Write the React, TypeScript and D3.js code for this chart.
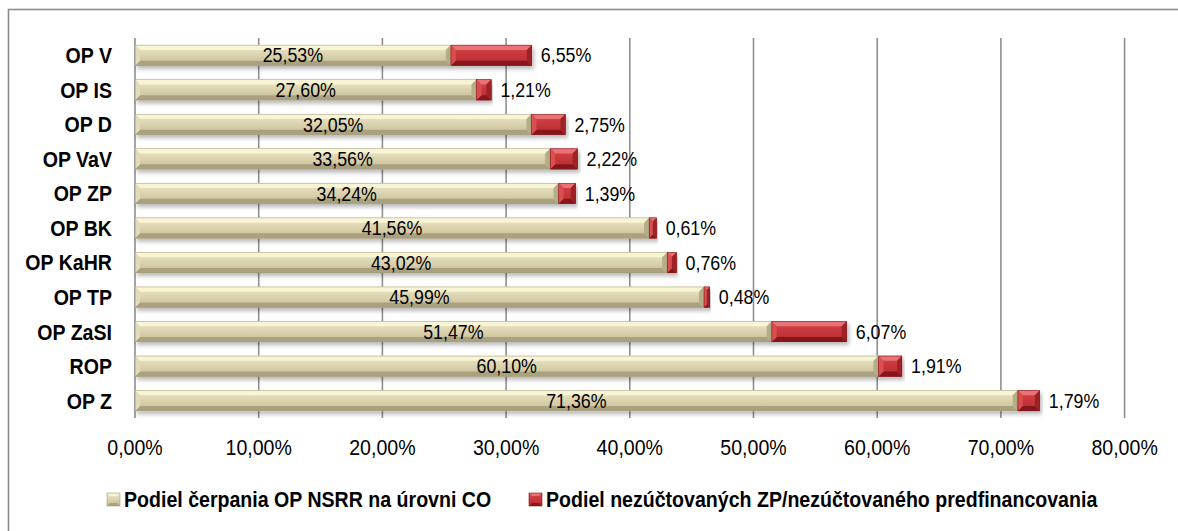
import { useEffect, useRef } from "react";
import * as d3 from "d3";

const kategorie = ["OP V", "OP IS", "OP D", "OP VaV", "OP ZP", "OP BK", "OP KaHR", "OP TP", "OP ZaSI", "ROP", "OP Z"];
const cerpanie = [25.53, 27.6, 32.05, 33.56, 34.24, 41.56, 43.02, 45.99, 51.47, 60.1, 71.36];
const nezuctovane = [6.55, 1.21, 2.75, 2.22, 1.39, 0.61, 0.76, 0.48, 6.07, 1.91, 1.79];
const osX = [0, 10, 20, 30, 40, 50, 60, 70, 80];
const legenda = ["Podiel čerpania OP NSRR na úrovni CO", "Podiel nezúčtovaných ZP/nezúčtovaného predfinancovania"];

// Arial Narrow nie je k dispozícii, tak bežné písmo stlačíme do šírky
const PISMO = "'Liberation Sans', Arial, sans-serif";
const ZUZENIE = 0.89;
const fmt = (v: number) => v.toFixed(2).replace(".", ",") + "%";
const posun = (px: number, py: number) => `translate(${px},${py}) scale(${ZUZENIE},1)`;

interface Farby {
  tvar: [string, string];
  hore: string;
  dole: string;
  vlavo: string;
  vpravo: string;
  obrys: string;
}

const BEZOVA: Farby = {
  tvar: ["#efe9c7", "#c6bc96"],
  hore: "#f8f4d6",
  dole: "#aaa17f",
  vlavo: "#e2dbb8",
  vpravo: "#b6ad89",
  obrys: "#a39b7a",
};
const CERVENA: Farby = {
  tvar: ["#d64447", "#b62a2f"],
  hore: "#e87274",
  dole: "#87191d",
  vlavo: "#d9504f",
  vpravo: "#9d2227",
  obrys: "#7d1a1e",
};

export default function App() {
  const svgRef = useRef<SVGSVGElement>(null);
  const ANCHO = 1178;
  const ALTO = 531;

  useEffect(() => {
    document.body.style.margin = "0";
    if (!svgRef.current) return;
    const svg = d3.select(svgRef.current);
    svg.selectAll("*").remove();

    const defs = svg.append("defs");
    const tien = defs.append("filter").attr("id", "tien").attr("x", "-5%").attr("y", "-30%").attr("width", "115%").attr("height", "190%");
    tien.append("feDropShadow").attr("dx", 2).attr("dy", 3).attr("stdDeviation", 2.2).attr("flood-color", "#000").attr("flood-opacity", 0.28);

    [
      ["gBez", BEZOVA],
      ["gCer", CERVENA],
    ].forEach(([id, f]) => {
      const gr = defs.append("linearGradient").attr("id", id as string).attr("x1", 0).attr("x2", 0).attr("y1", 0).attr("y2", 1);
      gr.append("stop").attr("offset", "0%").attr("stop-color", (f as Farby).tvar[0]);
      gr.append("stop").attr("offset", "100%").attr("stop-color", (f as Farby).tvar[1]);
    });

    // rámik grafu (vidno len hornú a ľavú hranu)
    svg.append("rect").attr("x", 8.5).attr("y", 9.5).attr("width", 1300).attr("height", 700).attr("fill", "none").attr("stroke", "#8c8c8c").attr("stroke-width", 1.6);

    const top = 38;
    const bottom = 418;
    const x = d3.scaleLinear().domain([0, 80]).range([135, 1124.6]);
    const y = d3.scaleBand().domain(kategorie).range([top, bottom]).paddingInner(0.4).paddingOuter(0.2);

    const g = svg.append("g");

    // mriežka
    g.selectAll("line.grid")
      .data(osX)
      .enter()
      .append("line")
      .attr("x1", (d) => x(d))
      .attr("x2", (d) => x(d))
      .attr("y1", top)
      .attr("y2", bottom)
      .attr("stroke", "#8f8f8f")
      .attr("stroke-width", 1.6);

    const bevel = (x0: number, y0: number, w: number, h: number, f: Farby, grad: string) => {
      const b = Math.min(5, w / 2, h / 2);
      const sg = g.append("g").attr("filter", "url(#tien)");
      sg.append("rect").attr("x", x0).attr("y", y0).attr("width", w).attr("height", h).attr("fill", `url(#${grad})`);
      const x1 = x0 + w;
      const y1 = y0 + h;
      const poly = (pts: number[][], c: string) =>
        sg.append("polygon").attr("points", pts.map((p) => p.join(",")).join(" ")).attr("fill", c);
      poly([[x0, y0], [x1, y0], [x1 - b, y0 + b], [x0 + b, y0 + b]], f.hore);
      poly([[x0, y1], [x1, y1], [x1 - b, y1 - b], [x0 + b, y1 - b]], f.dole);
      poly([[x0, y0], [x0 + b, y0 + b], [x0 + b, y1 - b], [x0, y1]], f.vlavo);
      poly([[x1, y0], [x1 - b, y0 + b], [x1 - b, y1 - b], [x1, y1]], f.vpravo);
      sg.append("rect").attr("x", x0 + 0.25).attr("y", y0 + 0.25).attr("width", w - 0.5).attr("height", h - 0.5).attr("fill", "none").attr("stroke", f.obrys).attr("stroke-width", 0.5);
    };

    const bw = y.bandwidth();
    kategorie.forEach((k, i) => {
      const y0 = y(k) || 0;
      const a = cerpanie[i];
      const b = nezuctovane[i];
      bevel(x(0), y0, x(a) - x(0), bw, BEZOVA, "gBez");
      bevel(x(a), y0, x(a + b) - x(a), bw, CERVENA, "gCer");
    });

    // popisky hodnôt
    const stred = (k: string) => (y(k) || 0) + bw / 2;
    g.selectAll("text.v1")
      .data(kategorie)
      .enter()
      .append("text")
      .attr("transform", (d, i) => posun((x(0) + x(cerpanie[i])) / 2, stred(d)))
      .attr("dy", "0.36em")
      .attr("text-anchor", "middle")
      .attr("font-family", PISMO)
      .attr("font-size", 20)
      .attr("fill", "#000")
      .text((_, i) => fmt(cerpanie[i]));

    g.selectAll("text.v2")
      .data(kategorie)
      .enter()
      .append("text")
      .attr("transform", (d, i) => posun(x(cerpanie[i] + nezuctovane[i]) + 9, stred(d)))
      .attr("dy", "0.36em")
      .attr("font-family", PISMO)
      .attr("font-size", 20)
      .attr("fill", "#000")
      .text((_, i) => fmt(nezuctovane[i]));

    // kategórie
    g.selectAll("text.kat")
      .data(kategorie)
      .enter()
      .append("text")
      .attr("transform", (d) => posun(112, stred(d)))
      .attr("dy", "0.36em")
      .attr("text-anchor", "end")
      .attr("font-family", PISMO)
      .attr("font-weight", 700)
      .attr("font-size", 22)
      .attr("fill", "#000")
      .text((d) => d);

    // os X
    g.selectAll("text.tick")
      .data(osX)
      .enter()
      .append("text")
      .attr("transform", (d) => posun(x(d), 455))
      .attr("text-anchor", "middle")
      .attr("font-family", PISMO)
      .attr("font-size", 22)
      .attr("fill", "#000")
      .text((d) => fmt(d));

    // legenda
    const leg = svg.append("g");
    const polohy = [107, 529];
    legenda.forEach((t, i) => {
      const f = i === 0 ? BEZOVA : CERVENA;
      const lx = polohy[i];
      const s = 13;
      const ly = 493;
      const b = 3;
      const pts = (p: number[][]) => p.map((q) => q.join(",")).join(" ");
      leg.append("rect").attr("x", lx).attr("y", ly).attr("width", s).attr("height", s).attr("fill", `url(#${i === 0 ? "gBez" : "gCer"})`);
      leg.append("polygon").attr("points", pts([[lx, ly], [lx + s, ly], [lx + s - b, ly + b], [lx + b, ly + b]])).attr("fill", f.hore);
      leg.append("polygon").attr("points", pts([[lx, ly + s], [lx + s, ly + s], [lx + s - b, ly + s - b], [lx + b, ly + s - b]])).attr("fill", f.dole);
      leg.append("rect").attr("x", lx).attr("y", ly).attr("width", s).attr("height", s).attr("fill", "none").attr("stroke", f.obrys).attr("stroke-width", 0.6);
      leg.append("text")
        .attr("transform", posun(lx + 17, 507))
        .attr("font-family", PISMO)
        .attr("font-weight", 700)
        .attr("font-size", 22)
        .attr("fill", "#000")
        .text(t);
    });
  }, []);

  return <svg ref={svgRef} width={ANCHO} height={ALTO} viewBox={`0 0 ${ANCHO} ${ALTO}`} style={{ display: "block", background: "#fff" }} />;
}
